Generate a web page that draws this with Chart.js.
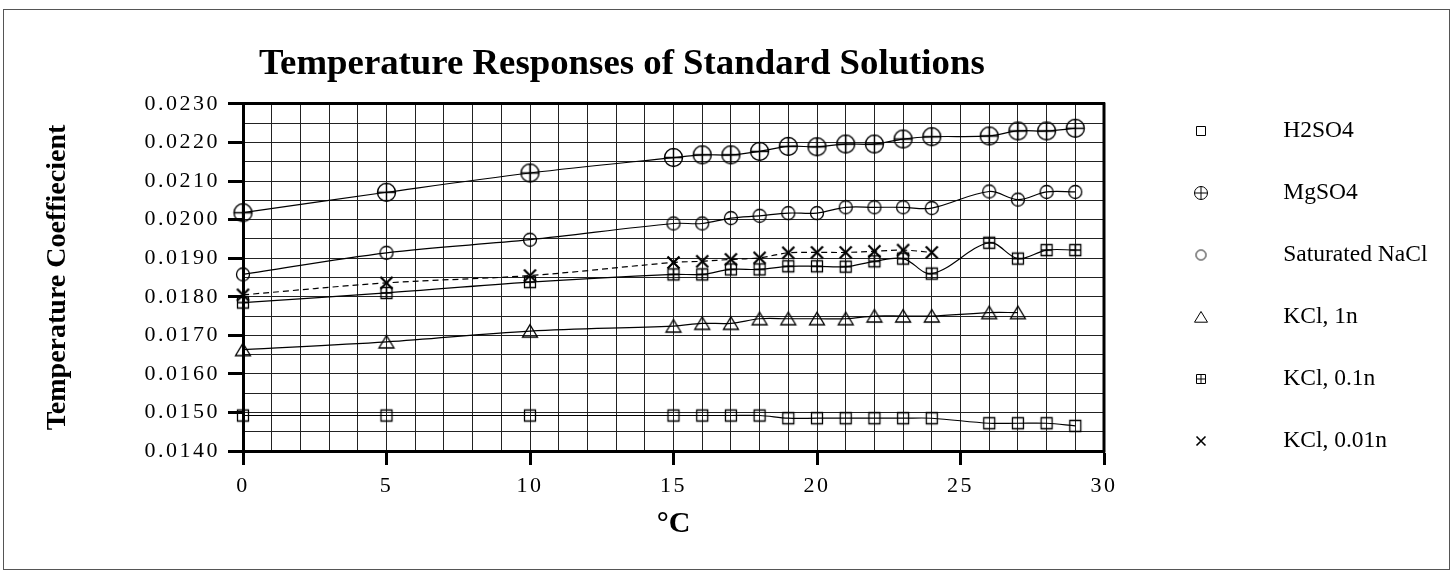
<!DOCTYPE html>
<html>
<head>
<meta charset="utf-8">
<script src="https://cdn.jsdelivr.net/npm/chart.js@4.4.1/dist/chart.umd.min.js"></script>
<style>
  html, body { margin: 0; padding: 0; background: #ffffff; }
  #wrap { position: relative; width: 1453px; height: 572px; overflow: hidden; }
  #c { position: absolute; left: 0; top: 0; }
  #frame { position: absolute; left: 3px; top: 9px; width: 1445px; height: 559px; border: 1px solid #555; pointer-events: none; }
</style>
</head>
<body>
<div id="wrap">
  <canvas id="c" width="1453" height="572"></canvas>
  <div id="frame"></div>
</div>
<script>
// ---------------- data ----------------
const TITLE = 'Temperature Responses of Standard Solutions';
const X_TITLE = '°C';
const Y_TITLE = 'Temperature Coeffiecient';
const SERIES_NAMES = ['H2SO4', 'MgSO4', 'Saturated NaCl', 'KCl, 1n', 'KCl, 0.1n', 'KCl, 0.01n'];

const TEMPS_FULL = [0, 5, 10, 15, 16, 17, 18, 19, 20, 21, 22, 23, 24, 26, 27, 28, 29];
const TEMPS_KCL_1N = [0, 5, 10, 15, 16, 17, 18, 19, 20, 21, 22, 23, 24, 26, 27];
const TEMPS_KCL_001N = [0, 5, 10, 15, 16, 17, 18, 19, 20, 21, 22, 23, 24];

const H2SO4 = [0.01492, 0.01492, 0.01492, 0.01492, 0.01492, 0.01492, 0.01492, 0.01485, 0.01485, 0.01485, 0.01485, 0.01485, 0.01485, 0.01472, 0.01472, 0.01472, 0.01465];
const MGSO4 = [0.02018, 0.02071, 0.02121, 0.02161, 0.02168, 0.02168, 0.02177, 0.02190, 0.02189, 0.02196, 0.02196, 0.02209, 0.02215, 0.02217, 0.02230, 0.02230, 0.02237];
const SAT_NACL = [0.01858, 0.01914, 0.01948, 0.01990, 0.01990, 0.02004, 0.02010, 0.02017, 0.02017, 0.02032, 0.02032, 0.02032, 0.02030, 0.02073, 0.02052, 0.02072, 0.02072];
const KCL_1N = [0.01663, 0.01683, 0.01711, 0.01724, 0.01731, 0.01731, 0.01743, 0.01743, 0.01743, 0.01743, 0.01750, 0.01750, 0.01750, 0.01759, 0.01759];
const KCL_01N = [0.01785, 0.01810, 0.01838, 0.01858, 0.01858, 0.01871, 0.01871, 0.01879, 0.01879, 0.01878, 0.01892, 0.01899, 0.01860, 0.01940, 0.01899, 0.01921, 0.01921];
const KCL_001N = [0.01805, 0.01836, 0.01855, 0.01889, 0.01892, 0.01897, 0.01901, 0.01914, 0.01915, 0.01915, 0.01918, 0.01921, 0.01915];

const X_MIN = 0, X_MAX = 30, X_STEP = 1, X_LABEL_EVERY = 5;
const Y_MIN = 0.0140, Y_MAX = 0.0230, Y_STEP = 0.0005, Y_LABEL_EVERY = 0.0010;

// ---------------- styling helpers ----------------
const SERIF = "'Liberation Serif', 'Times New Roman', Times, serif";
const LEGEND_FONT_SIZE = 23.5, LEGEND_PAD = 38.5, LEGEND_BOXW = 141;
const RIGHT_MARGIN = 349;   // space right of the plot for the legend
const LEFT_MARGIN = 243;    // space left of the plot for the y axis
const BOTTOM_MARGIN = 121;  // space below the plot for the x axis

function makeMark(kind, size, lw) {
  const dim = Math.ceil(size) + 5;
  const c = document.createElement('canvas');
  c.width = dim; c.height = dim;
  const g = c.getContext('2d');
  g.strokeStyle = '#000';
  g.lineWidth = lw;
  const m = dim / 2, h = size / 2;
  g.beginPath();
  if (kind === 'square') {
    g.rect(m - h, m - h, size, size);
  } else if (kind === 'squarePlus') {
    g.rect(m - h, m - h, size, size);
    g.moveTo(m, m - h); g.lineTo(m, m + h);
    g.moveTo(m - h, m); g.lineTo(m + h, m);
  } else if (kind === 'circle') {
    g.arc(m, m, h, 0, Math.PI * 2);
  } else if (kind === 'circlePlus') {
    g.arc(m, m, h, 0, Math.PI * 2);
    g.moveTo(m, m - h); g.lineTo(m, m + h);
    g.moveTo(m - h, m); g.lineTo(m + h, m);
  } else if (kind === 'triangle') {
    g.moveTo(m, m - h * 0.85);
    g.lineTo(m + h, m + h * 0.8);
    g.lineTo(m - h, m + h * 0.8);
    g.closePath();
  } else if (kind === 'cross') {
    g.moveTo(m - h, m - h); g.lineTo(m + h, m + h);
    g.moveTo(m + h, m - h); g.lineTo(m - h, m + h);
  }
  g.stroke();
  return c;
}

const PLOT_MARKS = [
  makeMark('square', 11, 1.3),
  makeMark('circlePlus', 18, 1.4),
  makeMark('circle', 13, 1.3),
  makeMark('triangle', 15, 1.3),
  makeMark('squarePlus', 11, 1.3),
  makeMark('cross', 12, 2.2)
];
const LEGEND_MARKS = [
  makeMark('square', 9, 1),
  makeMark('circlePlus', 13, 1),
  makeMark('circle', 10, 1),
  makeMark('triangle', 13, 1),
  makeMark('squarePlus', 9, 1),
  makeMark('cross', 9, 1.6)
];

function pts(xs, ys) { return xs.map((x, i) => ({ x: x, y: ys[i] })); }

const SERIES = [
  { xs: TEMPS_FULL, ys: H2SO4, dash: [] },
  { xs: TEMPS_FULL, ys: MGSO4, dash: [] },
  { xs: TEMPS_FULL, ys: SAT_NACL, dash: [] },
  { xs: TEMPS_KCL_1N, ys: KCL_1N, dash: [] },
  { xs: TEMPS_FULL, ys: KCL_01N, dash: [] },
  { xs: TEMPS_KCL_001N, ys: KCL_001N, dash: [6, 4] }
];

const datasets = SERIES.map((s, i) => ({
  label: SERIES_NAMES[i],
  data: pts(s.xs, s.ys),
  borderColor: '#000',
  backgroundColor: 'rgba(0,0,0,0)',
  borderWidth: 1.2,
  borderDash: s.dash,
  tension: 0.35,
  fill: false,
  clip: false,
  pointStyle: PLOT_MARKS[i],
  pointRadius: 8,
  pointHoverRadius: 8
}));

const isMultiple = (v, step, unit) => Math.round(v / unit) % Math.round(step / unit) === 0;

// width the legend will need (Chart.js adds 10px to a vertical legend), so the plot keeps its right edge
function legendNeededWidth() {
  const g = document.createElement('canvas').getContext('2d');
  g.font = LEGEND_FONT_SIZE + 'px ' + SERIF;
  const maxW = Math.max.apply(null, SERIES_NAMES.map(n => g.measureText(n).width));
  return LEGEND_PAD + LEGEND_BOXW + LEGEND_FONT_SIZE / 2 + maxW + 10;
}
const PAD_RIGHT = Math.max(0, RIGHT_MARGIN - legendNeededWidth());

// ---------------- plugins ----------------
const tickSpacing = {
  id: 'tickSpacing',
  beforeDraw(chart) {
    ['x', 'y'].forEach(id => {
      const s = chart.scales[id];
      if (s && !s.__spaced) {
        const orig = s.drawLabels.bind(s);
        s.drawLabels = function (area) {
          const ctx = this.ctx;
          ctx.save();
          try { ctx.letterSpacing = '2.5px'; } catch (e) {}
          orig(area);
          ctx.restore();
        };
        s.__spaced = true;
      }
    });
  }
};

const placeBlocks = {
  id: 'placeBlocks',
  afterLayout(chart) {
    const a = chart.chartArea;
    const tb = chart.titleBlock;
    if (tb) {
      const cx = a.left + 0.44 * (a.right - a.left);
      const half = 520;
      tb.left = cx - half; tb.right = cx + half; tb.width = half * 2;
    }
    const lg = chart.legend;
    if (lg) {
      const nl = a.right - 12;
      lg.left = nl; lg.right = nl + lg.width;
    }
  }
};

const rightBorder = {
  id: 'rightBorder',
  beforeDatasetsDraw(chart) {
    const a = chart.chartArea, ctx = chart.ctx;
    ctx.save();
    ctx.strokeStyle = '#000';
    ctx.lineWidth = 3;
    ctx.beginPath();
    ctx.moveTo(a.right, a.top - 1.5);
    ctx.lineTo(a.right, a.bottom + 1.5);
    ctx.stroke();
    ctx.restore();
  }
};

new Chart(document.getElementById('c'), {
  type: 'line',
  data: { datasets: datasets },
  options: {
    responsive: false,
    animation: false,
    devicePixelRatio: 1,
    layout: { padding: { left: 0, top: 0, bottom: 0, right: PAD_RIGHT } },
    events: [],
    plugins: {
      title: {
        display: true,
        text: TITLE,
        color: '#000',
        font: { family: SERIF, size: 36.8, weight: 'bold' },
        padding: { top: 42.3, bottom: 17.5 }
      },
      legend: {
        position: 'right',
        align: 'center',
        labels: {
          usePointStyle: true,
          pointStyleWidth: LEGEND_BOXW,
          padding: LEGEND_PAD,
          color: '#000',
          font: { family: SERIF, size: LEGEND_FONT_SIZE },
          generateLabels(chart) {
            const items = Chart.defaults.plugins.legend.labels.generateLabels(chart);
            items.forEach((it, i) => { it.pointStyle = LEGEND_MARKS[i]; it.fontColor = '#000'; });
            return items;
          }
        }
      },
      tooltip: { enabled: false }
    },
    scales: {
      x: {
        type: 'linear',
        position: 'bottom',
        min: X_MIN, max: X_MAX,
        afterFit(s) { s.height = BOTTOM_MARGIN; },
        ticks: {
          stepSize: X_STEP,
          autoSkip: false,
          maxRotation: 0,
          padding: 8,
          color: '#000',
          font: { family: SERIF, size: 22 },
          callback: v => isMultiple(v, X_LABEL_EVERY, X_STEP) ? String(v) : ''
        },
        grid: {
          color: '#222',
          lineWidth: 1,
          drawTicks: true,
          tickLength: 14,
          tickWidth: 3,
          tickColor: c => (c.tick && isMultiple(c.tick.value, X_LABEL_EVERY, X_STEP)) ? '#000' : 'rgba(0,0,0,0)'
        },
        border: { display: true, color: '#000', width: 3 },
        title: {
          display: true,
          text: X_TITLE,
          color: '#000',
          font: { family: SERIF, size: 30, weight: 'bold' },
          padding: { top: 0, bottom: 30 }
        }
      },
      y: {
        type: 'linear',
        position: 'left',
        min: Y_MIN, max: Y_MAX,
        afterFit(s) { s.width = LEFT_MARGIN; },
        ticks: {
          stepSize: Y_STEP,
          maxTicksLimit: 100,
          autoSkip: false,
          padding: 8,
          color: '#000',
          font: { family: SERIF, size: 22 },
          callback: v => isMultiple(v, Y_LABEL_EVERY, 0.0001) ? v.toFixed(4) : ''
        },
        grid: {
          color: '#222',
          lineWidth: 1,
          drawTicks: true,
          tickLength: 15,
          tickWidth: 3,
          tickColor: c => (c.tick && isMultiple(c.tick.value, Y_LABEL_EVERY, 0.0001)) ? '#000' : 'rgba(0,0,0,0)'
        },
        border: { display: true, color: '#000', width: 3 },
        title: {
          display: true,
          text: Y_TITLE,
          color: '#000',
          font: { family: SERIF, size: 28, weight: 'bold' },
          padding: { top: 41, bottom: 0 }
        }
      },
      x2: {
        type: 'linear',
        position: 'top',
        min: X_MIN, max: X_MAX,
        afterFit(s) { s.height = 0; },
        ticks: { display: false },
        grid: { display: false, drawTicks: false },
        border: { display: true, color: '#000', width: 3 }
      }
    }
  },
  plugins: [tickSpacing, placeBlocks, rightBorder]
});
</script>
</body>
</html>
